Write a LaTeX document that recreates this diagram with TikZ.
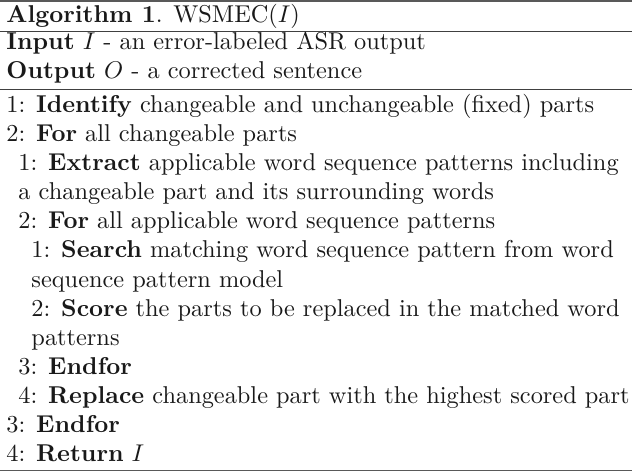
\documentclass[tikz,border=0pt]{standalone}
\usepackage{amsmath}
\usepackage{amssymb}
\usepackage{tikz}

\begin{document}
\begin{tikzpicture}[x=0.4132pt,y=-0.4132pt,
        txt/.style={anchor=base west,inner sep=0pt,text=black!90,font=\fontsize{10.06pt}{12pt}\selectfont},
        heavyrule/.style={line width=0.8pt,black!65},
        lightrule/.style={line width=0.4pt,black!75}]
        \useasboundingbox (0,0) rectangle (632,472);
        % rules of the algorithm box
        \draw[heavyrule] (0,1) -- (632,1);
        \draw[lightrule] (0,31.5) -- (632,31.5);
        \draw[lightrule] (0,89.5) -- (632,89.5);
        \draw[heavyrule] (0,470.5) -- (632,470.5);
        % header
        \node[txt] (head) at (6,22) {\textbf{Algorithm 1}. WSMEC($I$)};
        \node[txt] (inp) at (6,49) {\textbf{Input} $I$ - an error-labeled ASR output};
        \node[txt] (outp) at (6,78) {\textbf{Output} $O$ - a corrected sentence};
        % steps
        \node[txt] (ident) at (6,112) {1: \textbf{Identify} changeable and unchangeable (fixed) parts};
        \node[txt] (forA) at (6,141) {2: \textbf{For} all changeable parts};
        \node[txt] (extr) at (18,170) {1: \textbf{Extract} applicable word sequence patterns including};
        \node[txt] (extrb) at (18,199) {a changeable part and its surrounding words};
        \node[txt] (forB) at (18,228) {2: \textbf{For} all applicable word sequence patterns};
        \node[txt] (srch) at (31,257) {1: \textbf{Search} matching word sequence pattern from word};
        \node[txt] (srchb) at (31,287) {sequence pattern model};
        \node[txt] (scor) at (31,316) {2: \textbf{Score} the parts to be replaced in the matched word};
        \node[txt] (scorb) at (31,345) {patterns};
        \node[txt] (endB) at (18,374) {3: \textbf{Endfor}};
        \node[txt] (repl) at (18,403) {4: \textbf{Replace} changeable part with the highest scored part};
        \node[txt] (endA) at (6,432) {3: \textbf{Endfor}};
        \node[txt] (ret) at (6,461) {4: \textbf{Return} $I$};
    \end{tikzpicture}
\end{document}
